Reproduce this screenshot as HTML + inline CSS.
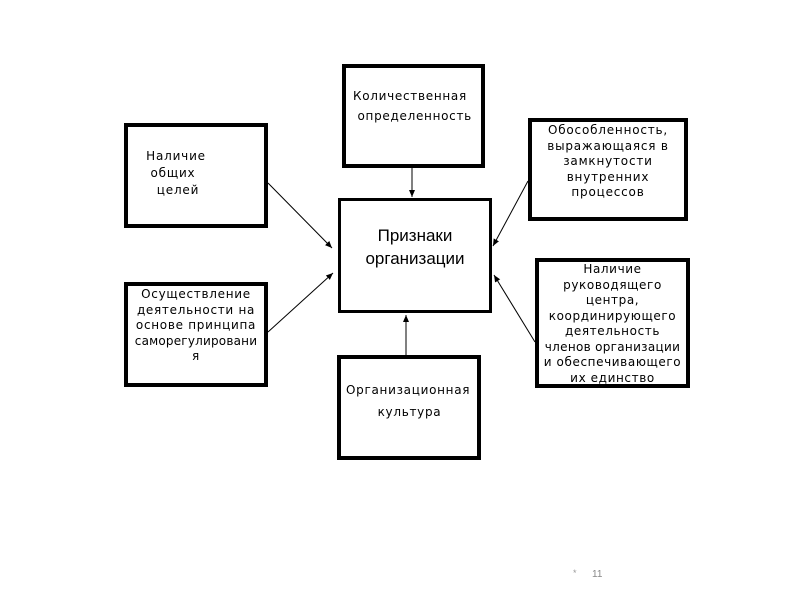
<!DOCTYPE html>
<html><head><meta charset="utf-8"><style>
body{margin:0;width:800px;height:600px;background:#fff;position:relative;overflow:hidden;font-family:"DejaVu Sans","Liberation Sans",sans-serif;}
.b{position:absolute;box-sizing:border-box;border:4px solid #000;background:#fff;font-size:12px;line-height:15.5px;letter-spacing:0.8px;text-align:center;color:#000;white-space:nowrap;}
svg{position:absolute;left:0;top:0}
</style></head><body>
<div class="b" style="left:342px;top:64px;width:143px;height:104px;text-align:left;padding:18px 0 0 7px;line-height:20px;letter-spacing:0.7px">Количественная<br>&nbsp;определенность</div>
<div class="b" style="left:124px;top:123px;width:144px;height:105px;padding:21px 0 0 0;line-height:17px"><span style="margin-left:-40px">Наличие</span><br><span style="margin-left:-46px">общих</span><br><span style="margin-left:-36px">целей</span></div>
<div class="b" style="left:124px;top:282px;width:144px;height:105px;padding:1px 0 0 0;letter-spacing:0.7px">Осуществление<br>деятельности на<br>основе принципа<br><span style="letter-spacing:0.2px">саморегулировани</span><br>я</div>
<div class="b" style="left:338px;top:198px;width:154px;height:115px;border-width:3px;font-family:'Liberation Sans',sans-serif;font-size:17px;line-height:23px;letter-spacing:0;padding:23px 0 0 0">Признаки<br>организации</div>
<div class="b" style="left:337px;top:355px;width:144px;height:105px;text-align:left;padding:20px 0 0 5px;line-height:22px;letter-spacing:0.7px">Организационная<br>&nbsp;&nbsp;&nbsp;&nbsp;&nbsp;&nbsp;&nbsp;культура</div>
<div class="b" style="left:528px;top:118px;width:160px;height:103px;padding:1px 0 0 0">Обособленность,<br>выражающаяся в<br>замкнутости<br>внутренних<br>процессов</div>
<div class="b" style="left:535px;top:258px;width:155px;height:130px;padding:0;line-height:15.5px;letter-spacing:0.6px;overflow:hidden">Наличие<br>руководящего<br>центра,<br>координирующего<br>деятельность<br><span style="letter-spacing:0.3px">членов организации</span><br>и обеспечивающего<br>их единство</div>
<svg width="800" height="600">
<defs><marker id="a" markerWidth="8" markerHeight="8" refX="7" refY="4" orient="auto" markerUnits="userSpaceOnUse"><path d="M0,1 L7,4 L0,7 z" fill="#000"/></marker></defs>
<g stroke="#000" stroke-width="1" fill="none" marker-end="url(#a)">
<line x1="412" y1="168" x2="412" y2="197"/>
<line x1="268" y1="183" x2="332" y2="248"/>
<line x1="268" y1="332" x2="333" y2="273"/>
<line x1="406" y1="355" x2="406" y2="315"/>
<line x1="528" y1="181" x2="493" y2="246"/>
<line x1="535" y1="342" x2="494" y2="275"/>
</g>
<text x="573" y="576" font-size="9" fill="#999" font-family="Liberation Sans">*</text>
<text x="592" y="577" font-size="10" fill="#888" font-family="Liberation Sans">11</text>
</svg>
</body></html>
